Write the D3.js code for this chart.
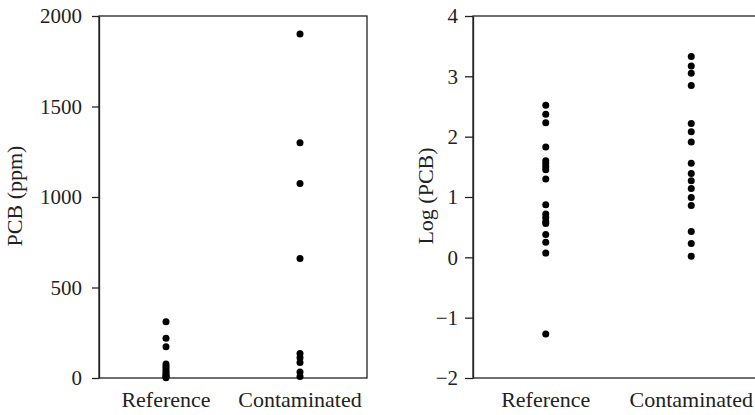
<!DOCTYPE html>
<html><head><meta charset="utf-8">
<script src="https://cdn.jsdelivr.net/npm/d3@7"></script>
<style>
html,body{margin:0;padding:0;background:#fff;}
svg{display:block;}
text{font-family:"Liberation Serif","DejaVu Serif",serif;fill:#222;}
</style></head>
<body>
<svg id="chart" width="755" height="415"></svg>
<script>
const categories = ["Reference", "Contaminated"];
const pcbReference = [311, 219, 173, 78, 65, 52, 40, 30, 20, 12, 6, 2];
const pcbContaminated = [1900, 1300, 1075, 660, 136, 112, 85, 33, 8];
const logReference = [2.52, 2.37, 2.23, 1.83, 1.60, 1.55, 1.50, 1.45, 1.30, 0.87, 0.72, 0.66, 0.60, 0.56, 0.38, 0.25, 0.07, -1.27];
const logContaminated = [3.33, 3.17, 3.05, 2.85, 2.22, 2.08, 1.91, 1.56, 1.39, 1.27, 1.14, 0.99, 0.86, 0.43, 0.23, 0.02];
const pcbTicks = [0, 500, 1000, 1500, 2000];
const logTicks = [-2, -1, 0, 1, 2, 3, 4];

const svg = d3.select("#chart");
const FS = 21, LFS = 22;

function panel(opts) {
  const g = svg.append("g");
  const x = d3.scalePoint().domain(categories).range([opts.left, opts.right]).padding(0.5);
  const y = d3.scaleLinear().domain(opts.domain).range([378, 16]);
  g.append("rect").attr("x", opts.left).attr("y", 16)
    .attr("width", opts.right - opts.left).attr("height", 362)
    .attr("fill", "none").attr("stroke", "#222").attr("stroke-width", 1.3);
  const ax = g.append("g").attr("transform", `translate(${opts.left},0)`)
    .call(d3.axisLeft(y).tickValues(opts.ticks).tickFormat(d3.format("d"))
      .tickSize(opts.tickSize).tickPadding(opts.tickPad).tickSizeOuter(0));
  ax.attr("font-family", null).attr("font-size", null);
  ax.select(".domain").attr("stroke", "#222").attr("stroke-width", 1.3);
  ax.selectAll(".tick line").attr("stroke", "#222").attr("stroke-width", 1.3);
  ax.selectAll(".tick text").attr("font-size", FS).attr("fill", "#222");
  g.selectAll(".xl").data(categories).enter().append("text")
    .attr("x", d => x(d)).attr("y", 407).attr("text-anchor", "middle")
    .attr("font-size", LFS).text(d => d);
  g.append("text").attr("transform", `translate(${opts.labelX},196) rotate(-90)`)
    .attr("text-anchor", "middle").attr("font-size", LFS).text(opts.label);
  const pts = [];
  opts.series.forEach((arr, i) => arr.forEach(v => pts.push({c: categories[i], v})));
  g.selectAll("circle").data(pts).enter().append("circle")
    .attr("cx", d => x(d.c)).attr("cy", d => y(d.v)).attr("r", 3.5).attr("fill", "#000");
}

panel({left: 99, right: 367, domain: [0, 2000], ticks: pcbTicks, tickSize: 7, tickPad: 10,
  label: "PCB (ppm)", labelX: 22, series: [pcbReference, pcbContaminated]});
panel({left: 473, right: 764, domain: [-2, 4], ticks: logTicks, tickSize: 8, tickPad: 7,
  label: "Log (PCB)", labelX: 433, series: [logReference, logContaminated]});
</script>
</body></html>
